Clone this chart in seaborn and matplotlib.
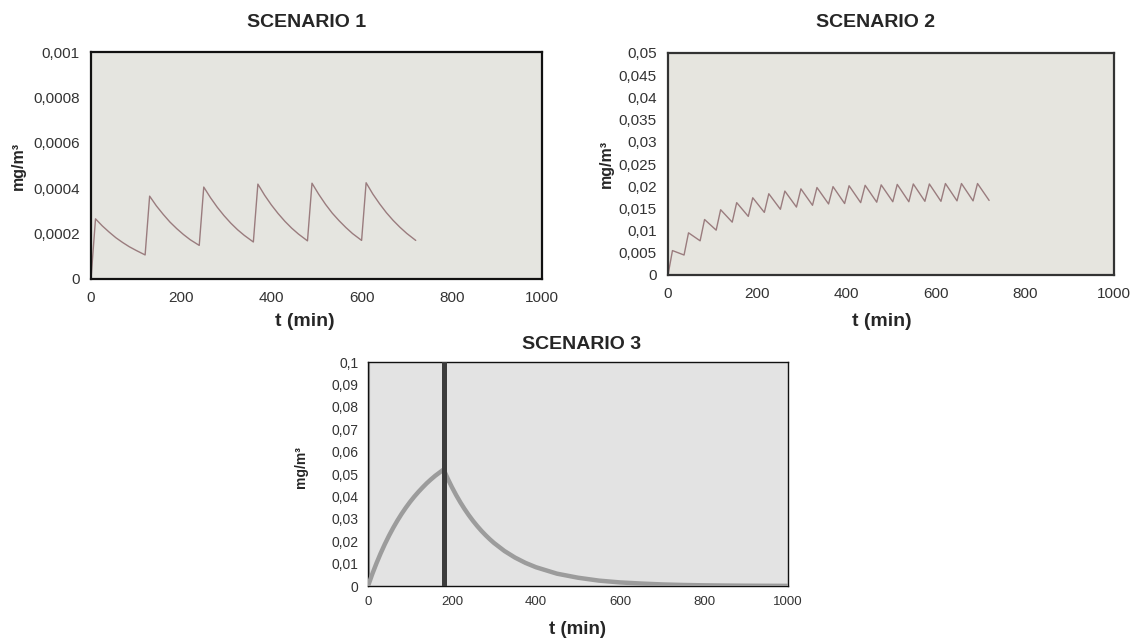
import numpy as np
import pandas as pd
import matplotlib
matplotlib.use("Agg")
import matplotlib.pyplot as plt
import seaborn as sns

# ---------------- data ----------------
# Scenario 1: short exposure every 120 min, then decay
s1_t = [0,
        10, 25, 40, 55, 70, 85, 100, 120,
        130, 145, 160, 175, 190, 205, 220, 240,
        250, 265, 280, 295, 310, 325, 340, 360,
        370, 385, 400, 415, 430, 445, 460, 480,
        490, 505, 520, 535, 550, 565, 580, 600,
        610, 625, 640, 655, 670, 685, 700, 720]
s1_c = [0,
        0.000265, 0.000234, 0.000207, 0.000182, 0.000161, 0.000142, 0.000126, 0.000106,
        0.000365, 0.000322, 0.000285, 0.000251, 0.000222, 0.000196, 0.000173, 0.000148,
        0.000405, 0.000358, 0.000316, 0.000279, 0.000246, 0.000217, 0.000192, 0.000163,
        0.000418, 0.000369, 0.000326, 0.000288, 0.000254, 0.000224, 0.000198, 0.000168,
        0.000422, 0.000373, 0.000329, 0.000290, 0.000257, 0.000227, 0.000200, 0.000170,
        0.000424, 0.000374, 0.000331, 0.000292, 0.000258, 0.000228, 0.000201, 0.000170]

# Scenario 2: peaks / troughs (period 36 min)
s2_t = [0, 10, 36, 46, 72, 82, 108, 118, 144, 154, 180, 190, 216, 226, 252,
        262, 288, 298, 324, 334, 360, 370, 396, 406, 432, 442, 468, 478,
        504, 514, 540, 550, 576, 586, 612, 622, 648, 658, 684, 694, 720]
s2_c = [0, 0.0055, 0.0045, 0.0095, 0.0077, 0.0125, 0.0101, 0.0147, 0.0119,
        0.0163, 0.0132, 0.0174, 0.0141, 0.0183, 0.0148, 0.0189, 0.0153,
        0.0194, 0.0157, 0.0197, 0.0160, 0.0199, 0.0161, 0.0201, 0.0163,
        0.0202, 0.0164, 0.0203, 0.0165, 0.0204, 0.0165, 0.0205, 0.0166,
        0.0205, 0.0166, 0.0206, 0.0167, 0.0206, 0.0167, 0.0206, 0.0168]

# Scenario 3: single 180-min exposure then decay
s3_t = [0, 10, 20, 30, 40, 50, 60, 70, 80, 90, 100, 110, 120, 130, 140, 150, 160, 170, 180,
        190, 200, 210, 220, 230, 240, 250, 260, 270, 280, 290, 300,
        325, 350, 375, 400, 450, 500, 550, 600, 650, 700, 750, 800, 850, 900, 950, 1000]
s3_c = [0, 0.00524, 0.01007, 0.01453, 0.01865, 0.02245, 0.02596, 0.0292, 0.0322, 0.03495,
        0.0375, 0.03985, 0.0420, 0.0440, 0.0459, 0.0476, 0.0492, 0.0506, 0.0520,
        0.04786, 0.04405, 0.04054, 0.03731, 0.03434, 0.03161, 0.02909, 0.02678, 0.02464,
        0.02268, 0.02088, 0.01921,
        0.01561, 0.01269, 0.01031, 0.00838, 0.0055, 0.0037, 0.0024, 0.0016, 0.0011,
        0.0007, 0.00046, 0.0003, 0.0002, 0.00013, 0.00009, 0.00006]
s3_mark = [0, 181]

titles = ["SCENARIO 1", "SCENARIO 2", "SCENARIO 3"]
xticks = [0, 200, 400, 600, 800, 1000]
s1_yticks = [0, 0.0002, 0.0004, 0.0006, 0.0008, 0.001]
s1_ylabels = ["0", "0,0002", "0,0004", "0,0006", "0,0008", "0,001"]
s2_yticks = [0, 0.005, 0.01, 0.015, 0.02, 0.025, 0.03, 0.035, 0.04, 0.045, 0.05]
s2_ylabels = ["0", "0,005", "0,01", "0,015", "0,02", "0,025", "0,03", "0,035",
              "0,04", "0,045", "0,05"]
s3_yticks = [0, 0.01, 0.02, 0.03, 0.04, 0.05, 0.06, 0.07, 0.08, 0.09, 0.1]
s3_ylabels = ["0", "0,01", "0,02", "0,03", "0,04", "0,05", "0,06", "0,07",
              "0,08", "0,09", "0,1"]

# ---------------- style ----------------
sns.set_style("white")
plt.rcParams["font.family"] = ["Liberation Sans", "DejaVu Sans"]

W, H = 1136, 639
fig = plt.figure(figsize=(W / 100, H / 100), dpi=100)


def box(l, t, r, b):
    return [l / W, 1 - b / H, (r - l) / W, (b - t) / H]


ax1 = fig.add_axes(box(91, 52, 542, 279))
ax2 = fig.add_axes(box(668, 53, 1114, 275))
ax3 = fig.add_axes(box(368, 362, 788, 586))

line_col = "#9a7c7e"
d1 = pd.DataFrame({"t": s1_t, "c": s1_c})
d2 = pd.DataFrame({"t": s2_t, "c": s2_c})
d3 = pd.DataFrame({"t": s3_t, "c": s3_c})

sns.lineplot(data=d1, x="t", y="c", ax=ax1, color=line_col, lw=1.0)
sns.lineplot(data=d2, x="t", y="c", ax=ax2, color=line_col, lw=1.0)
ax3.axvline(s3_mark[0], color="#a0a0a0", lw=3, zorder=2)
sns.lineplot(data=d3, x="t", y="c", ax=ax3, color="#9c9c9c", lw=3.2, zorder=3,
             solid_joinstyle="round", solid_capstyle="round")
ax3.axvline(s3_mark[1], color="#3c3c3c", lw=3.6, zorder=4)

cfg = [
    # ax, yticks, ylabels, ymax, face, edge, spine lw
    (ax1, s1_yticks, s1_ylabels, 0.001, "#e5e5e0", "#111111", 1.6),
    (ax2, s2_yticks, s2_ylabels, 0.05, "#e6e5df", "#333333", 1.6),
    (ax3, s3_yticks, s3_ylabels, 0.1, "#e3e3e3", "#111111", 1.0),
]
title_pos = [(0.479, 1.129), (0.466, 1.1365), (0.5095, 1.080)]
xlab_pos = [(0.474, -0.151), (0.479, -0.172), (0.498, -0.156)]
ylab_pos = [(-0.145, 0.5), (-0.122, 0.5), (-0.1417, 0.531)]
title_fs = [14, 14, 14]
xlab_fs = [14, 14, 13.5]
ylab_fs = [11.5, 11.5, 10]

for i, (ax, yt, yl, ymax, fc, ec, slw) in enumerate(cfg):
    ax.set_facecolor(fc)
    ax.set_xlim(0, 1000)
    ax.set_ylim(0, ymax)
    ax.set_xticks(xticks)
    ax.set_xticklabels([str(v) for v in xticks])
    ax.set_yticks(yt)
    ax.set_yticklabels(yl)
    for sp in ax.spines.values():
        sp.set_visible(True)
        sp.set_color(ec)
        sp.set_linewidth(slw)
    ax.set_xlabel("t (min)", fontsize=xlab_fs[i], fontweight="bold")
    ax.xaxis.set_label_coords(*xlab_pos[i])
    ax.set_ylabel("mg/m³", fontsize=ylab_fs[i], fontweight="bold")
    ax.yaxis.set_label_coords(*ylab_pos[i])
    ax.text(title_pos[i][0], title_pos[i][1], titles[i], transform=ax.transAxes,
            ha="center", va="center", fontsize=title_fs[i], fontweight="bold")
    if i < 2:
        ax.tick_params(axis="x", length=0, labelsize=11, colors="#333333", pad=8.5)
        ax.tick_params(axis="y", length=0, labelsize=11, colors="#333333", pad=8)
    else:
        ax.tick_params(axis="both", length=4, width=1, direction="out", color="#444444",
                       labelcolor="#333333")
        ax.tick_params(axis="x", labelsize=9.5, pad=3)
        ax.tick_params(axis="y", labelsize=10, pad=3)

fig.savefig("out.png", dpi=100)
